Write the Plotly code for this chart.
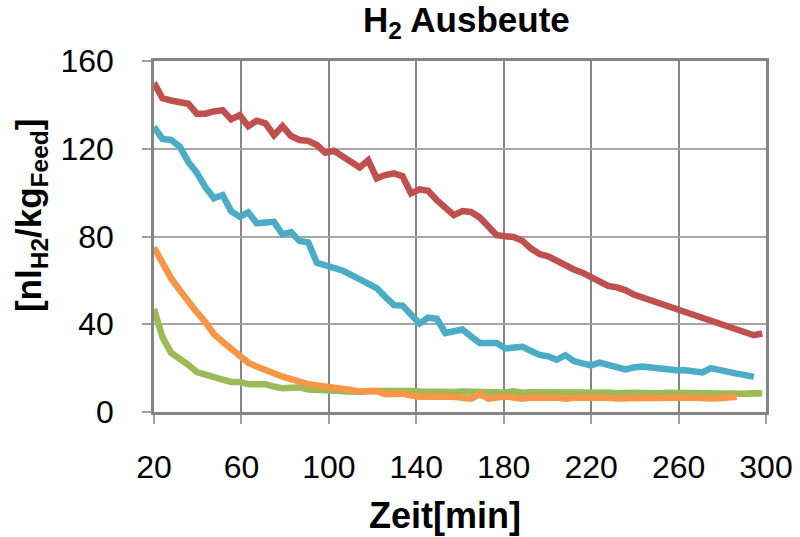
import plotly.graph_objects as go

# Time axis (minutes) - sampling interval
zeit = [20.0, 23.9, 27.8, 31.8, 35.7, 39.6, 43.5, 47.4, 51.4, 55.3, 59.2, 63.1,
        67.0, 71.0, 74.9, 78.8, 82.7, 86.6, 90.6, 94.5, 98.4, 102.3, 106.2, 110.2,
        114.1, 118.0, 121.9, 125.8, 129.8, 133.7, 137.6, 141.5, 145.4, 149.4, 153.3,
        157.2, 161.1, 165.0, 169.0, 172.9, 176.8, 180.7, 184.6, 188.6, 192.5, 196.4,
        200.3, 204.2, 208.2, 212.1, 216.0, 219.9, 223.8, 227.8, 231.7, 235.6, 239.5,
        243.4, 247.4, 251.3, 255.2, 259.1, 263.0, 267.0, 270.9, 274.8, 278.7, 282.6,
        286.6, 290.5, 294.4, 298.3]

rot = [150, 143, 142, 141, 140.5, 136, 136, 137, 137.6, 133.4, 135.3, 130.3,
       132.8, 131.6, 126.2, 130.3, 125.8, 124, 123.6, 121.7, 118.2, 119.1, 116.7, 114,
       111.5, 114.8, 106.5, 108, 108.8, 107.5, 99.6, 101.5, 100.8, 96.6, 92.8,
       89.7, 91.6, 91.2, 88.7, 84.4, 80.6, 80.1, 79.8, 78, 74.5, 72,
       71, 69, 66.8, 65, 63.5, 61.5, 60, 57.5, 56.8, 55.6, 53.5,
       52.2, 50.8, 49.5, 48.3, 46.8, 45, 43.7, 42.5, 41.2, 40.2, 39.1,
       37.5, 36, 35, 35.8]

blau = [130, 124.5, 124, 121, 114, 109, 102.5, 97.5, 98.8, 91.5, 89, 91,
        86, 86.5, 86.7, 81, 82, 78, 77.3, 68, 66.8, 66, 64.5, 62.5,
        60.5, 58.5, 56.5, 52.5, 48.7, 48.5, 44, 40.3, 43, 42.5, 36,
        36.8, 37.6, 34.5, 31.5, 31.5, 31.5, 29, 29.3, 29.7, 27.8, 26,
        25.4, 23.8, 25.9, 23.2, 22.2, 21.3, 22.5, 21.5, 20.3, 19.4, 20.3,
        20.7, 20.3, 19.8, 19.2, 19, 19, 18.5, 18, 20, 19, 18.2,
        17.5, 16.8, 16]

gruen = [47, 34, 27, 24.5, 21.5, 18.2, 17.3, 16.2, 14.8, 13.7, 13.7, 12.7,
         12.8, 12.7, 11.6, 10.8, 11.1, 11.2, 10.3, 10, 9.7, 9.5, 9.3, 9.2,
         9.1, 9.6, 9.7, 9.4, 9.5, 9.3, 9.6, 9.4, 9.2, 9.5, 9.3,
         9.1, 9.4, 9.2, 9.0, 9.3, 9.1, 8.9, 9.4, 8.8, 9.0, 9.1,
         8.9, 9.2, 8.7, 9.0, 8.9, 8.8, 9.1, 8.9, 8.6, 8.9, 8.8,
         8.7, 9.0, 8.6, 8.8, 8.7, 8.5, 8.9, 8.6, 8.5, 8.4, 8.7,
         8.4, 8.3, 8.5, 8.4]

orange = [75, 67.5, 61, 55.5, 50, 45.5, 41, 35.5, 32, 28.5, 25.2, 22.5,
          20.7, 19, 17.5, 16.1, 15, 13.6, 12.7, 12.1, 11.7, 11.2, 10.6, 10,
          9.3, 9.5, 9.6, 8.1, 8.3, 8.4, 7.6, 6.9, 7.1, 7.2, 6.8,
          6.9, 6.5, 6.1, 8.1, 6.1, 6.6, 7.1, 6.6, 6.1, 6.6, 6.3,
          6.5, 6.6, 6.1, 6.5, 6.6, 6.4, 6.8, 6.5, 6.2, 6.4, 6.6,
          6.3, 6.5, 6.4, 6.2, 6.5, 6.6, 6.3, 6.5, 6.1, 6.3, 6.6,
          7.0]

x_ticks = [20, 60, 100, 140, 180, 220, 260, 300]
y_ticks = [0, 40, 80, 120, 160]

FONT = "Liberation Sans, Arial, sans-serif"

fig = go.Figure()
series = [
    (rot, "#C0504D"),
    (blau, "#4BACC6"),
    (gruen, "#9BBB59"),
    (orange, "#F79646"),
]
for vals, col in series:
    fig.add_trace(go.Scatter(x=zeit[:len(vals)], y=vals, mode="lines",
                             line=dict(color=col, width=6.5),
                             showlegend=False, hoverinfo="skip"))

fig.update_layout(
    width=800, height=537,
    margin=dict(l=154, r=34, t=61, b=125.3, autoexpand=False),
    paper_bgcolor="white", plot_bgcolor="white",
    font=dict(family=FONT, color="black"),
    showlegend=False,
)
fig.update_xaxes(
    range=[20, 300], tickvals=x_ticks, ticktext=[str(v) for v in x_ticks],
    showgrid=True, gridcolor="#858585", gridwidth=2.2,
    showline=True, linecolor="#858585", linewidth=2.5, mirror=True,
    ticks="outside", ticklen=9, tickcolor="#A0A0A0", tickwidth=1.5,
    tickfont=dict(size=32, family=FONT), ticklabelstandoff=16,
    zeroline=False, automargin=False,
)
fig.update_yaxes(
    range=[0, 160], tickvals=y_ticks, ticktext=[str(v) for v in y_ticks],
    showgrid=True, gridcolor="#A6A6A6", gridwidth=1.5,
    showline=True, linecolor="#858585", linewidth=2.5, mirror=True,
    ticks="outside", ticklen=9, tickcolor="#A0A0A0", tickwidth=1.5,
    tickfont=dict(size=32, family=FONT), ticklabelstandoff=22,
    zeroline=False, automargin=False,
)

fig.add_annotation(text="<b>H<sub>2</sub> Ausbeute</b>", xref="paper", yref="paper",
                   x=0.511, y=1.111, xanchor="center", yanchor="middle",
                   showarrow=False, font=dict(size=35, family=FONT))
fig.add_annotation(text="<b>[nl<sub>H2</sub>/kg<sub>Feed</sub>]</b>", xref="paper", yref="paper",
                   x=-0.201, y=0.561, xanchor="center", yanchor="middle", textangle=-90,
                   showarrow=False, font=dict(size=35, family=FONT))
fig.add_annotation(text="<b>Zeit[min]</b>", xref="paper", yref="paper",
                   x=0.475, y=-0.296, xanchor="center", yanchor="middle",
                   showarrow=False, font=dict(size=36, family=FONT))

fig.write_html("out.html", config={"displayModeBar": False},
               post_script="document.body.style.margin='0';document.body.style.padding='0';")
